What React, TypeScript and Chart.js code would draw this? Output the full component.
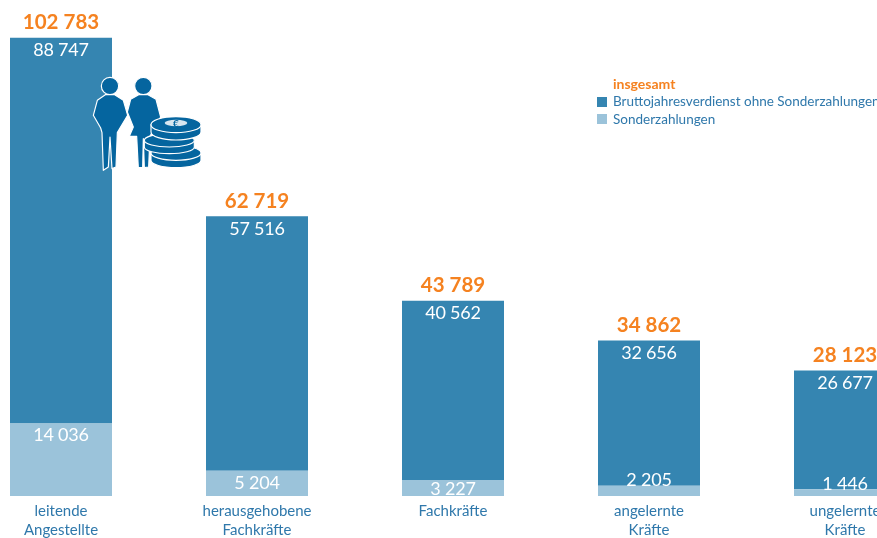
import React, { useEffect, useRef } from "react";
import { Chart, registerables } from "chart.js";

Chart.register(...registerables);

const categories = [
  ["leitende", "Angestellte"],
  ["herausgehobene", "Fachkräfte"],
  ["Fachkräfte"],
  ["angelernte", "Kräfte"],
  ["ungelernte", "Kräfte"],
];
const baseValues = [88747, 57516, 40562, 32656, 26677];
const bonusValues = [14036, 5204, 3227, 2205, 1446];
const totalValues = [102783, 62719, 43789, 34862, 28123];
// Segment heights as the reference actually draws them: its pale segments are
// taller than the printed values on the same scale (most visibly the first bar).
const bonusDrawn = [16260, 5680, 3590, 2310, 1500];
const baseDrawn = [86523, 57039, 40199, 32552, 26623];
const legendTitle = "insgesamt";
const legendBase = "Bruttojahresverdienst ohne Sonderzahlungen";
const legendBonus = "Sonderzahlungen";

const DARK = "#3585b1";
const LIGHT = "#9bc3da";
const ORANGE = "#f58220";
const TEXT = "#2f78ab";
const FONT = "Lato, sans-serif";
const LEFT_SHIFT = 37;
const bonusLabelShift = [12, 13, 9, -6, -5];

const fmt = (v: number) => String(v).replace(/\B(?=(\d{3})+$)/g, " ");

const labelsPlugin = {
  id: "labels",
  afterDatasetsDraw(chart: any) {
    const { ctx, scales } = chart;
    const x = scales.x;
    const y = scales.y;
    ctx.save();
    ctx.textAlign = "center";
    ctx.textBaseline = "middle";
    totalValues.forEach((total, i) => {
      const cx = x.getPixelForValue(i);
      const top = y.getPixelForValue(total);
      ctx.letterSpacing = "0px";
      ctx.font = `700 20.5px ${FONT}`;
      ctx.fillStyle = ORANGE;
      ctx.fillText(fmt(total), cx, top - 15);
      ctx.letterSpacing = "-0.2px";
      ctx.font = `400 18px ${FONT}`;
      ctx.fillStyle = "#ffffff";
      ctx.fillText(fmt(baseValues[i]), cx, top + 12.5);
      ctx.fillText(fmt(bonusValues[i]), cx, y.getPixelForValue(bonusDrawn[i]) + bonusLabelShift[i]);
    });
    ctx.letterSpacing = "0px";
    ctx.textAlign = "left";
    const lx = 613 + LEFT_SHIFT;
    ctx.font = `700 14px ${FONT}`;
    ctx.fillStyle = ORANGE;
    ctx.fillText(legendTitle, lx, 84);
    ctx.font = `400 13.5px ${FONT}`;
    ctx.fillStyle = TEXT;
    ctx.fillText(legendBase, lx, 102);
    ctx.fillText(legendBonus, lx, 119.5);
    ctx.fillStyle = DARK;
    ctx.fillRect(597 + LEFT_SHIFT, 97, 10, 10);
    ctx.fillStyle = LIGHT;
    ctx.fillRect(597 + LEFT_SHIFT, 114, 10, 10);
    ctx.restore();
  },
};

const ICON = "#05659f";

function coin(cx: number, cy: number, rx: number, ry: number, t: number) {
  return (
    <g>
      <path d={`M${cx - rx} ${cy} L${cx - rx} ${cy + t} A${rx} ${ry} 0 0 0 ${cx + rx} ${cy + t} L${cx + rx} ${cy} Z`} />
      <ellipse cx={cx} cy={cy} rx={rx} ry={ry} />
    </g>
  );
}

function People() {
  return (
    <svg
      width={877}
      height={538}
      style={{ position: "absolute", left: 0, top: 0, pointerEvents: "none" }}
      fill={ICON}
    >
      <g transform="translate(90 72) scale(0.3333)" stroke="#fff" strokeWidth={3.5} strokeLinejoin="round">
        <circle cx={60} cy={42} r={26} />
        <path d="M46 68 L74 68 L100 85 L113 130 L90 168 L82 182 L78 285 L66 290 L60 195 L55 285 L40 295 L36 182 L32 168 L10 130 L22 85 Z" />
        <circle cx={160} cy={42} r={26} />
        <path d="M146 68 L174 68 L198 82 L212 135 L192 170 L180 193 L176 285 L163 287 L160 200 L158 287 L145 287 L140 193 L118 193 L130 165 L112 120 L122 82 Z" />
        {coin(258, 243, 75, 22, 22)}
        {coin(238, 205, 75, 20, 20)}
        {coin(258, 158, 75, 24, 22)}
        <ellipse cx={258} cy={153} rx={34} ry={10} fill="#d7e6f0" stroke="none" />
        <text x={258} y={165} fontSize={30} fontWeight={700} textAnchor="middle" fill={ICON} stroke="none" fontFamily={FONT}>€</text>
      </g>
    </svg>
  );
}

export default function App() {
  const ref = useRef<HTMLCanvasElement>(null);
  useEffect(() => {
    const chart = new Chart(ref.current!, {
      type: "bar",
      data: {
        labels: categories,
        datasets: [
          { label: legendBonus, data: bonusDrawn, backgroundColor: LIGHT, borderWidth: 0 },
          { label: legendBase, data: baseDrawn, backgroundColor: DARK, borderWidth: 0 },
        ],
      },
      options: {
        responsive: false,
        animation: false,
        layout: { padding: { top: 6, left: 0, right: 0, bottom: 0 } },
        datasets: { bar: { barPercentage: 102 / 196, categoryPercentage: 1 } },
        plugins: { legend: { display: false }, tooltip: { enabled: false } },
        scales: {
          x: {
            stacked: true,
            grid: { display: false, drawTicks: false },
            border: { display: false },
            afterFit: (s: any) => {
              s.height = 42;
            },
            ticks: {
              color: TEXT,
              font: { family: FONT, size: 15, lineHeight: 1.27 },
              padding: 6,
              maxRotation: 0,
              autoSkip: false,
            },
          },
          y: { stacked: true, display: false, min: 0, max: 109900 },
        },
      },
      plugins: [labelsPlugin],
    } as any);
    return () => chart.destroy();
  }, []);
  return (
    <div style={{ position: "absolute", left: 0, top: 0, width: 877, height: 538, overflow: "hidden", background: "#fff" }}>
      <canvas ref={ref} width={980} height={538} style={{ position: "absolute", left: -LEFT_SHIFT, top: 0, display: "block" }} />
      <People />
    </div>
  );
}
